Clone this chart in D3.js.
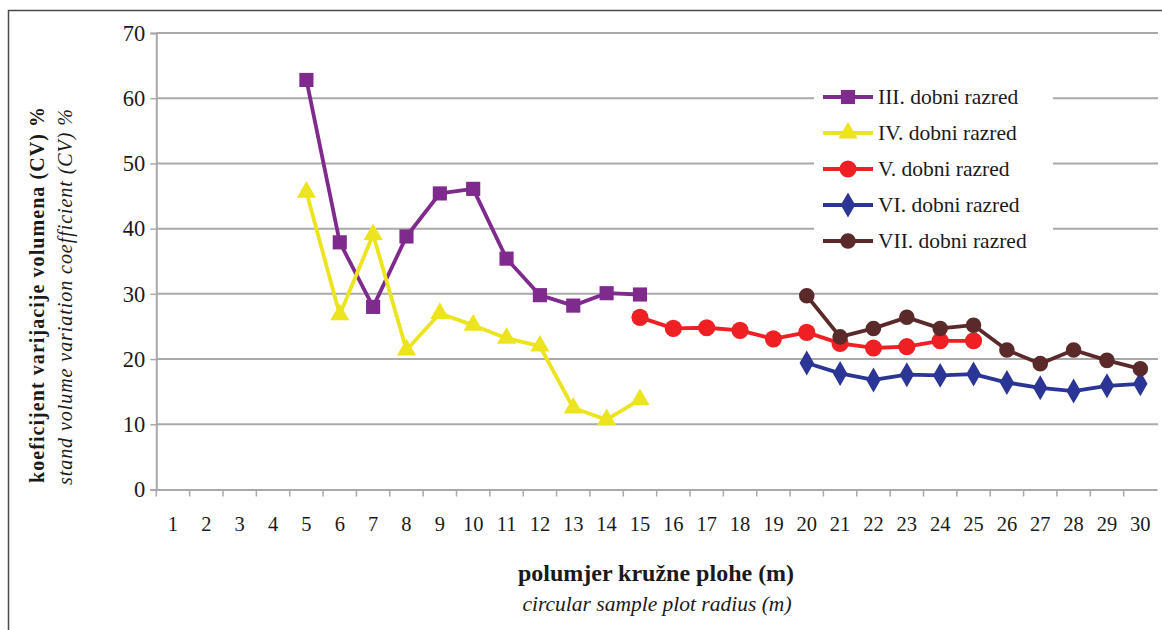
<!DOCTYPE html>
<html><head><meta charset="utf-8">
<script src="https://cdn.jsdelivr.net/npm/d3@7"></script>
<style>
html,body{margin:0;padding:0;background:#fff;}
svg{display:block;}
svg text{font-family:"Liberation Serif","Times New Roman",Times,"DejaVu Serif",serif !important;}
</style></head>
<body>
<svg id="chart" width="1162" height="630"></svg>
<script>
const categories = d3.range(1, 31).map(String);
const yTicks = [0, 10, 20, 30, 40, 50, 60, 70];

const namesIII = "III. dobni razred";
const startIII = 5;
const valuesIII = [62.8, 37.9, 28.0, 38.8, 45.4, 46.1, 35.4, 29.8, 28.2, 30.1, 29.9];

const namesIV = "IV. dobni razred";
const startIV = 5;
const valuesIV = [45.6, 26.8, 39.1, 21.4, 27.0, 25.2, 23.2, 22.0, 12.5, 10.7, 13.8];

const namesV = "V. dobni razred";
const startV = 15;
const valuesV = [26.4, 24.7, 24.8, 24.4, 23.1, 24.1, 22.4, 21.7, 21.9, 22.8, 22.8];

const namesVI = "VI. dobni razred";
const startVI = 20;
const valuesVI = [19.4, 17.8, 16.8, 17.6, 17.5, 17.7, 16.4, 15.6, 15.1, 15.9, 16.2];

const namesVII = "VII. dobni razred";
const startVII = 20;
const valuesVII = [29.7, 23.4, 24.7, 26.4, 24.7, 25.2, 21.4, 19.3, 21.4, 19.8, 18.5];

const series = [
  {name: namesIII, start: startIII, values: valuesIII, color: "#7f2b8e", symbol: d3.symbolSquare, size: 200},
  {name: namesIV, start: startIV, values: valuesIV, color: "#ece41f", symbol: d3.symbolTriangle, size: 160},
  {name: namesV, start: startV, values: valuesV, color: "#ee2024", symbol: d3.symbolCircle, size: 230},
  {name: namesVI, start: startVI, values: valuesVI, color: "#2b3595", symbol: d3.symbolDiamond, size: 180},
  {name: namesVII, start: startVII, values: valuesVII, color: "#5a2a2b", symbol: d3.symbolCircle, size: 190}
];

const svg = d3.select("#chart");
const pLeft = 156.3, pRight = 1157, pTop = 33, pBottom = 489.5;

const x = d3.scaleBand().domain(categories).range([pLeft, pRight]).paddingInner(0).paddingOuter(0);
const y = d3.scaleLinear().domain([0, 70]).range([pBottom, pTop]);

// outer frame
svg.append("rect").attr("x", 8.5).attr("y", 10.5).attr("width", 1170).attr("height", 640)
  .attr("fill", "none").attr("stroke", "#4a4a4a").attr("stroke-width", 1.5);

// gridlines
svg.append("g").selectAll("line").data(yTicks.filter(d => d > 0)).join("line")
  .attr("x1", pLeft).attr("x2", pRight + 1)
  .attr("y1", d => y(d)).attr("y2", d => y(d))
  .attr("stroke", "#a9a9ab").attr("stroke-width", 2);

// y axis
const yAxis = d3.axisLeft(y).tickValues(yTicks).tickSize(6).tickPadding(8);
const gy = svg.append("g").attr("transform", `translate(${pLeft},0)`).call(yAxis);
gy.attr("font-family", null);
gy.select(".domain").attr("stroke", "#a9a9ab").attr("stroke-width", 2);
gy.selectAll(".tick line").attr("stroke", "#a9a9ab").attr("stroke-width", 1.5);
gy.selectAll(".tick text").attr("font-size", 22.5).attr("fill", "#1a1a1a").attr("x", -11);

// x axis with ticks at band boundaries
const xAxis = d3.axisBottom(x).tickSize(0).tickPadding(27);
const gx = svg.append("g").attr("transform", `translate(0,${pBottom})`).call(xAxis);
gx.attr("font-family", null);
gx.select(".domain").attr("stroke", "#a9a9ab").attr("stroke-width", 2);
gx.selectAll(".tick text").attr("font-size", 20.5).attr("fill", "#1a1a1a");
gx.append("g").selectAll("line").data(categories).join("line")
  .attr("x1", d => x(d)).attr("x2", d => x(d))
  .attr("y1", 0).attr("y2", 7)
  .attr("stroke", "#a9a9ab").attr("stroke-width", 1.5);

// series
const line = d3.line().x(d => x(d.c) + x.bandwidth() / 2).y(d => y(d.v));
series.forEach(s => {
  const pts = s.values.map((v, i) => ({c: String(s.start + i), v}));
  svg.append("path").datum(pts).attr("d", line)
    .attr("fill", "none").attr("stroke", s.color).attr("stroke-width", 3.8)
    .attr("stroke-linejoin", "round");
  svg.append("g").selectAll("path").data(pts).join("path")
    .attr("transform", d => `translate(${x(d.c) + x.bandwidth() / 2},${y(d.v)})`)
    .attr("d", d3.symbol().type(s.symbol).size(s.size))
    .attr("fill", s.color);
});

// legend
const lg = svg.append("g");
lg.append("rect").attr("x", 814).attr("y", 79).attr("width", 239).attr("height", 182).attr("fill", "#fff");
series.forEach((s, i) => {
  const cy = 97 + i * 36;
  lg.append("line").attr("x1", 823).attr("x2", 873).attr("y1", cy).attr("y2", cy)
    .attr("stroke", s.color).attr("stroke-width", 3.8);
  lg.append("path").attr("transform", `translate(848,${cy})`)
    .attr("d", d3.symbol().type(s.symbol).size(s.size)).attr("fill", s.color);
  lg.append("text").attr("x", 878).attr("y", cy + 7).attr("font-size", 21.5)
    .attr("fill", "#1a1a1a").text(s.name);
});

// axis titles
svg.append("text").attr("transform", "translate(44,295) rotate(-90)")
  .attr("text-anchor", "middle").attr("font-weight", "bold").attr("font-size", 20)
  .attr("fill", "#1a1a1a").attr("textLength", 376).attr("lengthAdjust", "spacing")
  .text("koeficijent varijacije volumena (CV) %");
svg.append("text").attr("transform", "translate(72,297) rotate(-90)")
  .attr("text-anchor", "middle").attr("font-style", "italic").attr("font-size", 20)
  .attr("fill", "#1a1a1a").attr("textLength", 376).attr("lengthAdjust", "spacing")
  .text("stand volume variation coefficient (CV) %");

svg.append("text").attr("x", 656).attr("y", 581).attr("text-anchor", "middle")
  .attr("font-weight", "bold").attr("font-size", 24).attr("fill", "#1a1a1a")
  .text("polumjer kružne plohe (m)");
svg.append("text").attr("x", 657).attr("y", 611).attr("text-anchor", "middle")
  .attr("font-style", "italic").attr("font-size", 21.5).attr("fill", "#1a1a1a")
  .text("circular sample plot radius (m)");
</script>
</body></html>
